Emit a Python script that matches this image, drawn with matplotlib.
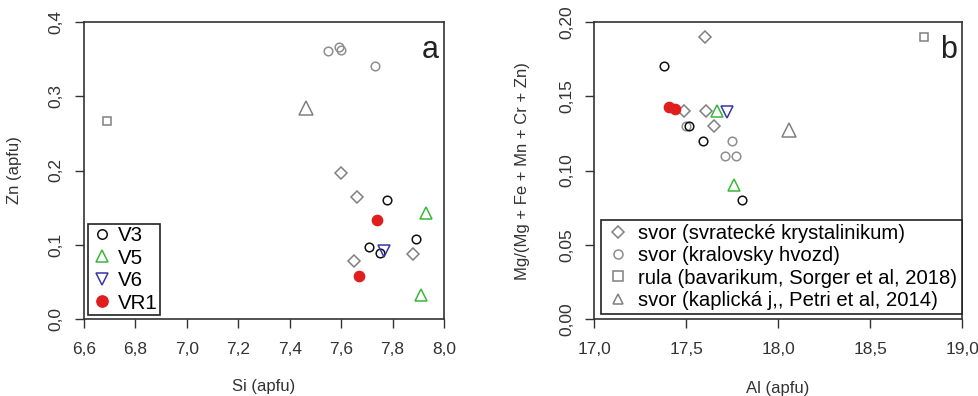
import numpy as np
import matplotlib
matplotlib.use("Agg")
import matplotlib.pyplot as plt
from matplotlib.ticker import FuncFormatter

plt.rcParams['font.family'] = ['Liberation Sans', 'DejaVu Sans']

# panel a: Si vs Zn (apfu)
a_svratecke_si = [7.60, 7.66, 7.65, 7.88]
a_svratecke_zn = [0.197, 0.164, 0.078, 0.088]
a_kralovsky_si = [7.55, 7.59, 7.60, 7.73]
a_kralovsky_zn = [0.361, 0.366, 0.362, 0.341]
a_rula_si = [6.69]
a_rula_zn = [0.267]
a_kaplicka_si = [7.465]
a_kaplicka_zn = [0.284]
a_v3_si = [7.78, 7.89, 7.71, 7.75]
a_v3_zn = [0.160, 0.108, 0.097, 0.089]
a_v5_si = [7.93, 7.91]
a_v5_zn = [0.143, 0.032]
a_v6_si = [7.765]
a_v6_zn = [0.091]
a_vr1_si = [7.74, 7.67]
a_vr1_zn = [0.134, 0.058]

# panel b: Al vs Mg/(Mg+Fe+Mn+Cr+Zn)
b_svratecke_al = [17.60, 17.49, 17.605, 17.65]
b_svratecke_mg = [0.190, 0.140, 0.140, 0.130]
b_kralovsky_al = [17.50, 17.75, 17.71, 17.77]
b_kralovsky_mg = [0.130, 0.120, 0.110, 0.110]
b_rula_al = [18.79]
b_rula_mg = [0.190]
b_kaplicka_al = [18.06]
b_kaplicka_mg = [0.127]
b_v3_al = [17.38, 17.515, 17.59, 17.80]
b_v3_mg = [0.170, 0.130, 0.120, 0.080]
b_v5_al = [17.665, 17.76]
b_v5_mg = [0.140, 0.090]
b_v6_al = [17.72]
b_v6_mg = [0.139]
b_vr1_al = [17.405, 17.44]
b_vr1_mg = [0.143, 0.141]

legend_a = ['V3', 'V5', 'V6', 'VR1']
legend_b = ['svor (svratecké krystalinikum)', 'svor (kralovsky hvozd)',
            'rula (bavarikum, Sorger et al, 2018)', 'svor (kaplická j,, Petri et al, 2014)']

GRAY = '#808080'
LGRAY = '#8e8e8e'
GREEN = '#38b838'
BLUE = '#3a36a8'
RED = '#e01e1e'
DARK = '#333333'

styles = {
    'svr': dict(marker='D', ms=6.4, mfc='none', mec=GRAY, mew=1.1, ls='none'),
    'kra': dict(marker='o', ms=6.2, mfc='none', mec=LGRAY, mew=1.1, ls='none'),
    'rul': dict(marker='s', ms=6.3, mfc='none', mec=GRAY, mew=1.1, ls='none'),
    'kap': dict(marker='^', ms=9.5, mfc='none', mec=GRAY, mew=1.1, ls='none'),
    'v3': dict(marker='o', ms=6.2, mfc='none', mec='#111111', mew=1.1, ls='none'),
    'v5': dict(marker='^', ms=8, mfc='none', mec=GREEN, mew=1.1, ls='none'),
    'v6': dict(marker='v', ms=8, mfc='none', mec=BLUE, mew=1.1, ls='none'),
    'vr1': dict(marker='o', ms=7.4, mfc=RED, mec=RED, mew=1.0, ls='none'),
}

fig = plt.figure(figsize=(9.79, 3.96), dpi=100)
ax1 = fig.add_axes([84 / 979, 1 - 319 / 396, 360 / 979, 297 / 396])
ax2 = fig.add_axes([594.3 / 979, 1 - 319.3 / 396, 368 / 979, 297.6 / 396])


def comma(fmt):
    return FuncFormatter(lambda v, p: (fmt % v).replace('.', ','))


def style_axes(ax):
    for s in ax.spines.values():
        s.set_color(DARK)
        s.set_linewidth(1.2)
    ax.tick_params(direction='out', length=6.5, width=1, color=DARK,
                   labelsize=12.5, labelcolor=DARK)
    ax.tick_params(axis='x', pad=10)
    ax.tick_params(axis='y', pad=8)
    for lab in ax.get_yticklabels():
        lab.set_rotation(90)
        lab.set_va('center')


# panel a
ax1.plot(a_svratecke_si, a_svratecke_zn, **styles['svr'])
ax1.plot(a_kralovsky_si, a_kralovsky_zn, **styles['kra'])
ax1.plot(a_rula_si, a_rula_zn, **styles['rul'])
ax1.plot(a_kaplicka_si, a_kaplicka_zn, **styles['kap'])
ha = []
ha += ax1.plot(a_v3_si, a_v3_zn, **styles['v3'])
ha += ax1.plot(a_v5_si, a_v5_zn, **styles['v5'])
ha += ax1.plot(a_v6_si, a_v6_zn, **styles['v6'])
ha += ax1.plot(a_vr1_si, a_vr1_zn, **styles['vr1'])
ax1.set_xlim(6.6, 8.0)
ax1.set_ylim(0, 0.4)
ax1.set_xticks(np.arange(6.6, 8.01, 0.2))
ax1.set_yticks(np.arange(0, 0.41, 0.1))
ax1.xaxis.set_major_formatter(comma('%.1f'))
ax1.yaxis.set_major_formatter(comma('%.1f'))
style_axes(ax1)
ax1.text(0.985, 0.955, 'a', transform=ax1.transAxes, ha='right', va='top',
         fontsize=22, color='#222222')
leg1 = ax1.legend(ha, legend_a, loc='lower left', bbox_to_anchor=(0.01, 0.013),
                  borderaxespad=0, fontsize=14.8, frameon=True, fancybox=False,
                  edgecolor='#222222', framealpha=1, borderpad=0.12, labelspacing=0.17,
                  handlelength=1.2, handletextpad=0.15, numpoints=1)
leg1.get_frame().set_linewidth(1.2)
for h in leg1.legend_handles:
    h.set_markersize(h.get_markersize() * 1.1)

# panel b
hb = []
hb += ax2.plot(b_svratecke_al, b_svratecke_mg, **styles['svr'])
hb += ax2.plot(b_kralovsky_al, b_kralovsky_mg, **styles['kra'])
hb += ax2.plot(b_rula_al, b_rula_mg, **styles['rul'])
hb += ax2.plot(b_kaplicka_al, b_kaplicka_mg, **styles['kap'])
ax2.plot(b_v3_al, b_v3_mg, **styles['v3'])
ax2.plot(b_v5_al, b_v5_mg, **styles['v5'])
ax2.plot(b_v6_al, b_v6_mg, **styles['v6'])
ax2.plot(b_vr1_al, b_vr1_mg, **styles['vr1'])
ax2.set_xlim(17.0, 19.0)
ax2.set_ylim(0, 0.2)
ax2.set_xticks(np.arange(17.0, 19.01, 0.5))
ax2.set_yticks(np.arange(0, 0.201, 0.05))
ax2.xaxis.set_major_formatter(comma('%.1f'))
ax2.yaxis.set_major_formatter(comma('%.2f'))
style_axes(ax2)
ax2.text(0.985, 0.955, 'b', transform=ax2.transAxes, ha='right', va='top',
         fontsize=22, color='#222222')
leg2 = ax2.legend(hb, legend_b, loc='lower left', bbox_to_anchor=(0.017, 0.017),
                  borderaxespad=0, fontsize=14.6, frameon=True, fancybox=False,
                  edgecolor='#222222', framealpha=1, borderpad=0.22, labelspacing=0.16,
                  handlelength=1.28, handletextpad=0.37, numpoints=1)
leg2.get_frame().set_linewidth(1.2)
for h in leg2.legend_handles:
    h.set_markersize(6.5)

fig.text(264 / 979, 1 - 387 / 396, 'Si (apfu)', ha='center', va='center',
         fontsize=12, color=DARK)
fig.text(15 / 979, 1 - 170 / 396, 'Zn (apfu)', ha='center', va='center',
         rotation=90, fontsize=12, color=DARK)
fig.text(778 / 979, 1 - 388 / 396, 'Al (apfu)', ha='center', va='center',
         fontsize=12, color=DARK)
fig.text(523 / 979, 1 - 171 / 396, 'Mg/(Mg + Fe + Mn + Cr + Zn)', ha='center',
         va='center', rotation=90, fontsize=12, color=DARK)

fig.savefig('out.png', dpi=100)
